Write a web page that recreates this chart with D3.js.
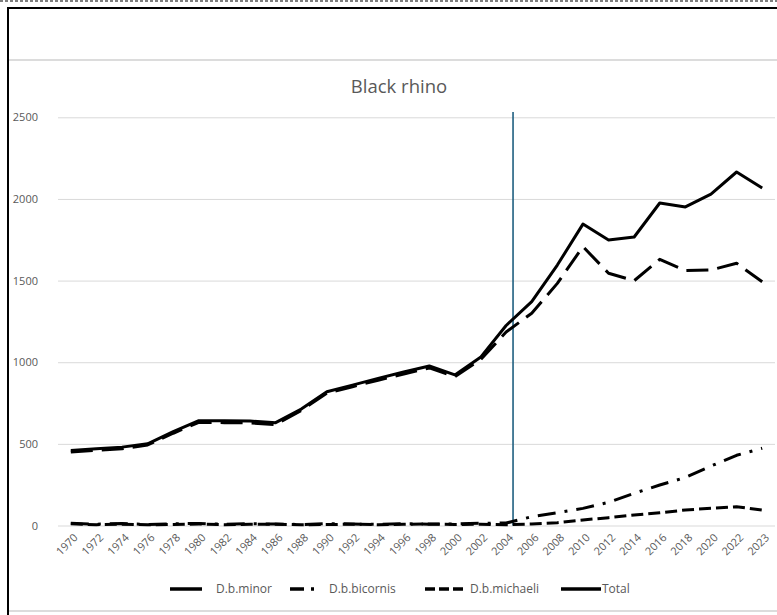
<!DOCTYPE html>
<html>
<head>
<meta charset="utf-8">
<script src="https://cdn.jsdelivr.net/npm/d3@7"></script>
<style>
  html, body { margin: 0; padding: 0; background: #fff; }
  svg { display: block; }
  text { font-family: "Open Sans", "Liberation Sans", sans-serif; fill: #595959; }
</style>
</head>
<body>
<svg id="chart" width="777" height="615"></svg>
<script>
// ---------- data ----------
const years = ["1970","1972","1974","1976","1978","1980","1982","1984","1986","1988",
  "1990","1992","1994","1996","1998","2000","2002","2004","2006","2008",
  "2010","2012","2014","2016","2018","2020","2022","2023"];

const minor = [450, 460, 470, 493, 565, 632, 630, 628, 618, 705,
  810, 850, 890, 928, 965, 912, 1015, 1185, 1300, 1483,
  1708, 1545, 1499, 1630, 1561, 1565, 1606, 1493];

const bicornis = [14, 8, 12, 6, 10, 13, 7, 11, 9, 6,
  12, 9, 7, 11, 8, 10, 14, 15, 54, 78,
  105, 142, 197, 248, 294, 364, 430, 473];

const michaeli = [10, 5, 8, 4, 6, 9, 5, 7, 8, 4,
  6, 8, 5, 7, 9, 6, 8, 5, 9, 17,
  34, 48, 64, 78, 95, 105, 115, 95];

const total = [460, 470, 480, 500, 575, 642, 642, 640, 630, 713,
  819, 860, 901, 940, 977, 922, 1030, 1225, 1371, 1595,
  1846, 1749, 1767, 1975, 1951, 2030, 2165, 2067];

const seriesNames = ["D.b.minor", "D.b.bicornis", "D.b.michaeli", "Total"];
const yTicks = [0, 500, 1000, 1500, 2000, 2500];
const title = "Black rhino";
const markerYear = "2004";   // vertical reference line placed just after this year
const markerFrac = 0.27;     // fraction of a category step after markerYear

// ---------- layout ----------
const svg = d3.select("#chart");
const W = 777, H = 615;
const plot = { left: 58, right: 775, top: 117.3, bottom: 525.5 };

// frame
svg.append("line").attr("x1", 0).attr("x2", W).attr("y1", 1).attr("y2", 1)
  .attr("stroke", "#555").attr("stroke-width", 1.5).attr("stroke-dasharray", "3,2");
svg.append("line").attr("x1", 8).attr("x2", W).attr("y1", 8).attr("y2", 8)
  .attr("stroke", "#000").attr("stroke-width", 2);
svg.append("line").attr("x1", 8).attr("x2", 8).attr("y1", 7).attr("y2", H)
  .attr("stroke", "#000").attr("stroke-width", 2);
svg.append("line").attr("x1", 9).attr("x2", W).attr("y1", 60).attr("y2", 60)
  .attr("stroke", "#dcdcdc").attr("stroke-width", 2);
svg.append("line").attr("x1", 9).attr("x2", W).attr("y1", 611).attr("y2", 611)
  .attr("stroke", "#dcdcdc").attr("stroke-width", 2);

// scales
const x = d3.scaleBand().domain(years).range([plot.left, plot.right]).padding(0);
const cx = d => x(d) + x.bandwidth() / 2;
const y = d3.scaleLinear().domain([0, 2500]).range([plot.bottom, plot.top]);

// title
svg.append("text").attr("x", 399).attr("y", 93).attr("text-anchor", "middle")
  .style("font-size", "18.5px").text(title);

// y gridlines + labels
const yAxis = d3.axisLeft(y).tickValues(yTicks).tickSize(-(plot.right - plot.left))
  .tickPadding(20).tickFormat(d3.format("d"));
const gy = svg.append("g").attr("transform", `translate(${plot.left},0)`).call(yAxis);
gy.select(".domain").remove();
gy.selectAll(".tick line").attr("stroke", "#d9d9d9").attr("stroke-width", 1);
gy.selectAll(".tick text").style("font-size", "11px").attr("fill", "#595959");

// x axis labels
const xAxis = d3.axisBottom(x).tickSize(0).tickPadding(0);
const gx = svg.append("g").attr("transform", `translate(0,${plot.bottom})`).call(xAxis);
gx.select(".domain").remove();
gx.selectAll(".tick text")
  .style("font-size", "11px").attr("fill", "#595959")
  .attr("text-anchor", "end")
  .attr("dy", "0.35em")
  .attr("transform", "translate(5,10) rotate(-45)");

// vertical marker
const step = x.step();
const mx = cx(markerYear) + markerFrac * step;
svg.append("line").attr("x1", mx).attr("x2", mx).attr("y1", 112).attr("y2", plot.bottom)
  .attr("stroke", "#1f5f80").attr("stroke-width", 1.6);

// lines
const series = [
  { name: seriesNames[0], values: minor,    dash: "22,9",       lg: "32,10" },
  { name: seriesNames[1], values: bicornis, dash: "18,9,3,9",   lg: "14,7,3,20" },
  { name: seriesNames[2], values: michaeli, dash: "12,5",       lg: "10,4" },
  { name: seriesNames[3], values: total,    dash: null,         lg: null }
];

const line = d3.line().x((d, i) => cx(years[i])).y(d => y(d));

svg.append("g").selectAll("path").data(series).join("path")
  .attr("d", s => line(s.values))
  .attr("fill", "none")
  .attr("stroke", "#000")
  .attr("stroke-width", 3)
  .attr("stroke-linejoin", "round")
  .attr("stroke-dasharray", s => s.dash);

// legend
const legendY = 589;
const legendX = [170, 290, 425, 561];
const legendTextX = [216, 329, 470, 602];
const lg = svg.append("g");
series.forEach((s, i) => {
  lg.append("line").attr("x1", legendX[i]).attr("x2", legendX[i] + 40)
    .attr("y1", legendY).attr("y2", legendY)
    .attr("stroke", "#000").attr("stroke-width", 3.5)
    .attr("stroke-dasharray", s.lg);
  lg.append("text").attr("x", legendTextX[i]).attr("y", legendY).attr("dy", "0.35em")
    .style("font-size", "12px").text(s.name);
});
</script>
</body>
</html>
